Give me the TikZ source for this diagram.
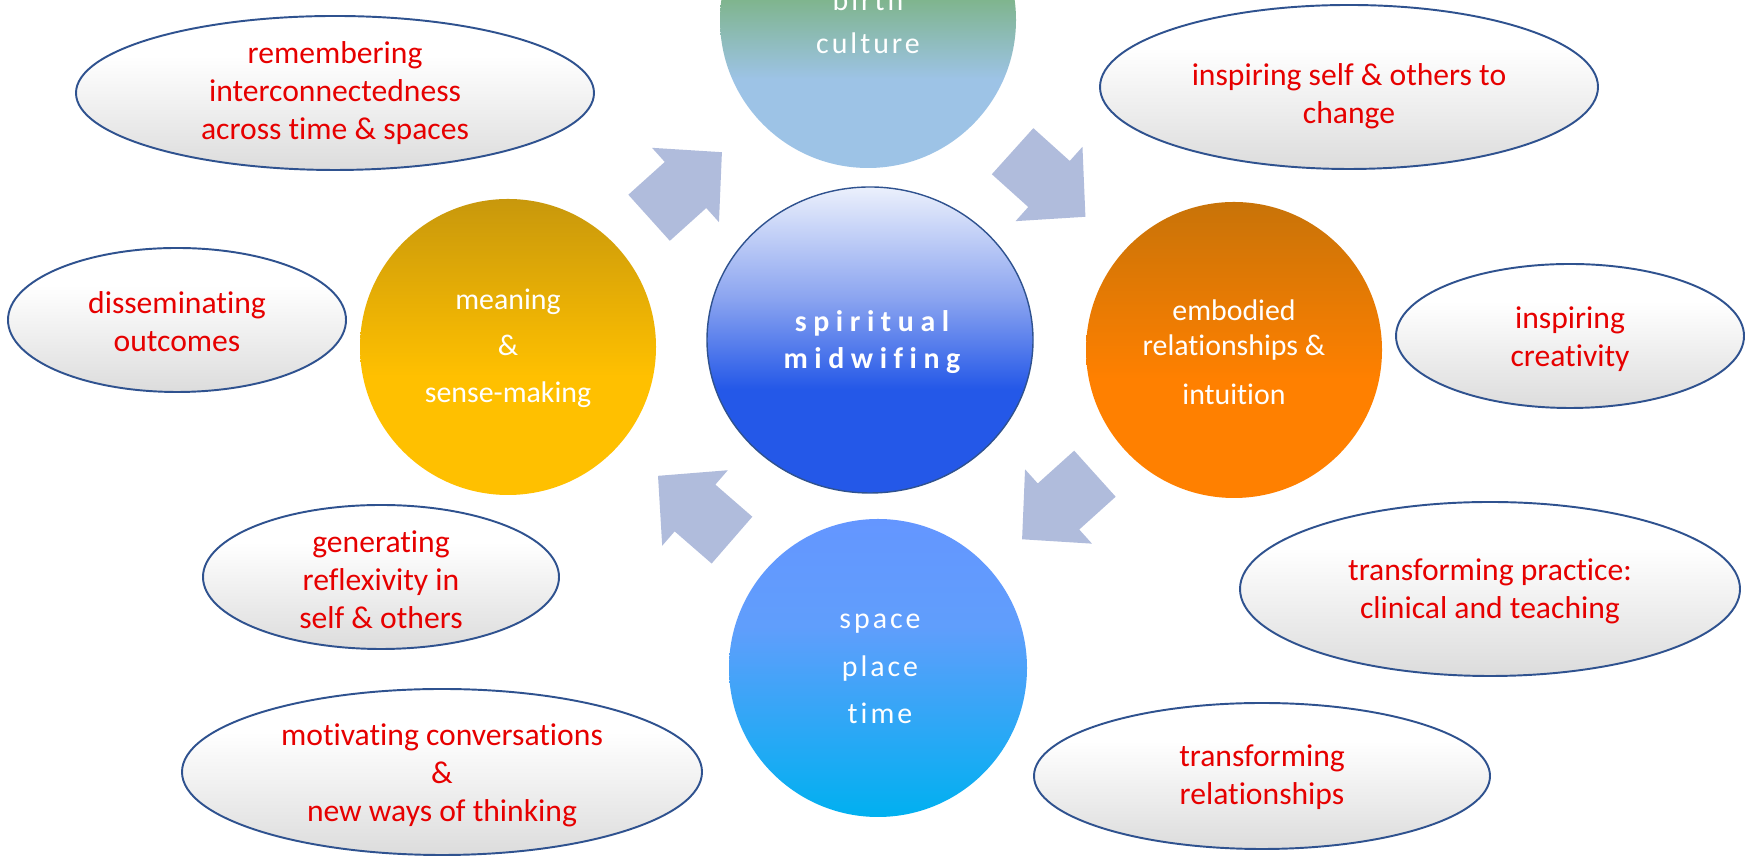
\documentclass[tikz,border=0pt]{standalone}
\usepackage{fontspec}
\setmainfont{Carlito}[Ligatures=NoCommon]
\newfontfamily\widefont[LetterSpace=22,Ligatures=NoCommon]{Carlito}
\newfontfamily\airyfont[LetterSpace=10,Ligatures=NoCommon]{Carlito}
\usepackage{xcolor}
\usetikzlibrary{positioning}

\definecolor{labelred}{RGB}{230,0,0}
\definecolor{rimblue}{RGB}{47,82,143}
\definecolor{arrowblue}{RGB}{176,188,220}
\definecolor{bubblelow}{RGB}{220,220,220}
\definecolor{leafgreen}{RGB}{126,180,138}
\definecolor{paleblue}{RGB}{157,195,230}
\definecolor{hubtop}{RGB}{235,240,252}
\definecolor{hubmid}{RGB}{140,165,240}
\definecolor{hubblue}{RGB}{36,88,232}
\definecolor{goldtop}{RGB}{200,152,12}
\definecolor{gold}{RGB}{255,192,0}
\definecolor{rusttop}{RGB}{200,115,8}
\definecolor{rust}{RGB}{255,128,0}
\definecolor{skytop}{RGB}{100,150,255}
\definecolor{skymid}{RGB}{96,158,252}
\definecolor{sky}{RGB}{0,176,240}

% fades (path spans 25bp..75bp)
\pgfdeclareverticalshading{bubblefade}{100bp}{color(0bp)=(bubblelow); color(25bp)=(bubblelow); color(62bp)=(white); color(100bp)=(white)}
\pgfdeclareverticalshading{birthfade}{100bp}{color(0bp)=(paleblue); color(40bp)=(paleblue); color(54bp)=(leafgreen); color(100bp)=(leafgreen)}
\pgfdeclareverticalshading{hubfade}{100bp}{color(0bp)=(hubblue); color(42bp)=(hubblue); color(57bp)=(hubmid); color(75bp)=(hubtop); color(100bp)=(hubtop)}
\pgfdeclareverticalshading{goldfade}{100bp}{color(0bp)=(gold); color(45bp)=(gold); color(75bp)=(goldtop); color(100bp)=(goldtop)}
\pgfdeclareverticalshading{rustfade}{100bp}{color(0bp)=(rust); color(45bp)=(rust); color(75bp)=(rusttop); color(100bp)=(rusttop)}
\pgfdeclareverticalshading{skyfade}{100bp}{color(0bp)=(sky); color(25bp)=(sky); color(57bp)=(skymid); color(75bp)=(skytop); color(100bp)=(skytop)}

\begin{document}
\begin{tikzpicture}[x=0.02cm, y=0.02cm,
    bubble/.style={shading=bubblefade, draw=rimblue, line width=1.1pt},
    bubbletext/.style={font=\fontsize{18}{21.6}\selectfont, text=labelred, align=center},
    hubtext/.style={font=\fontsize{17}{26.7}\selectfont, text=white, align=center},
    flow/.pic={\fill[arrowblue] (-49,-31) -- (0,-31) -- (0,-50) -- (49,0) -- (0,50) -- (0,31) -- (-49,31) -- cycle;},
]
\clip (0,0) rectangle (1747,857);
\fill[white] (0,0) rectangle (1747,857);

% Circles
\shade[shading=birthfade] (868,837) circle (148);
\node[hubtext, font=\airyfont\fontsize{17}{24.5}\selectfont] (birth) at (868,835) {birth\\culture};

\shade[shading=hubfade, draw=rimblue, line width=0.8pt] (870,517) ellipse [x radius=163, y radius=153];
\node[hubtext, font=\widefont\bfseries\fontsize{17}{21}\selectfont] (hub) at (872,515) {spiritual\\midwifing};

\shade[shading=goldfade] (508,510) circle (148);
\node[hubtext, font=\fontsize{17}{26.5}\selectfont] (meaning) at (508,509) {meaning\\\&\\sense-making};

\shade[shading=rustfade] (1234,507) circle (148);
\node[hubtext, font=\fontsize{17}{20}\selectfont] (embodied) at (1234,505) {embodied\\relationships \&\\[8pt]intuition};

\shade[shading=skyfade] (878,189) circle (149);
\node[hubtext, font=\airyfont\fontsize{17}{27}\selectfont] (space) at (880,188) {space\\place\\time};

% Arrows
\pic (toBirth) at (685.5,672) [rotate=42] {flow};
\pic (toBody) at (1049,673) [rotate=-42] {flow};
\pic (toSpace) at (1058.5,350.5) [rotate=-138] {flow};
\pic (toMeaning) at (695,349) [rotate=139] {flow};

% Outcome bubbles, left
\shade[bubble] (335,764) ellipse [x radius=259, y radius=77];
\node[bubbletext] (remember) at (335,764) {remembering\\interconnectedness\\across time \& spaces};

\shade[bubble] (177,537) ellipse [x radius=169, y radius=72];
\node[bubbletext] (dissem) at (177,535) {disseminating\\outcomes};

\shade[bubble] (381,280) ellipse [x radius=178, y radius=72];
\node[bubbletext] (reflex) at (381,277) {generating\\reflexivity in\\self \& others};

\shade[bubble] (442,85) ellipse [x radius=260, y radius=83];
\node[bubbletext] (talk) at (442,82) {motivating conversations\\\&\\new ways of thinking};

% Outcome bubbles, right
\shade[bubble] (1349,770) ellipse [x radius=249, y radius=82];
\node[bubbletext] (change) at (1349,761) {inspiring self \& others to\\change};

\shade[bubble] (1570,521) ellipse [x radius=174, y radius=72];
\node[bubbletext] (create) at (1570,518) {inspiring\\creativity};

\shade[bubble] (1490,268) ellipse [x radius=250, y radius=87];
\node[bubbletext] (practice) at (1490,266) {transforming practice:\\clinical and teaching};

\shade[bubble] (1262,81) ellipse [x radius=228, y radius=73];
\node[bubbletext] (relate) at (1262,80) {transforming\\relationships};

\end{tikzpicture}
\end{document}
